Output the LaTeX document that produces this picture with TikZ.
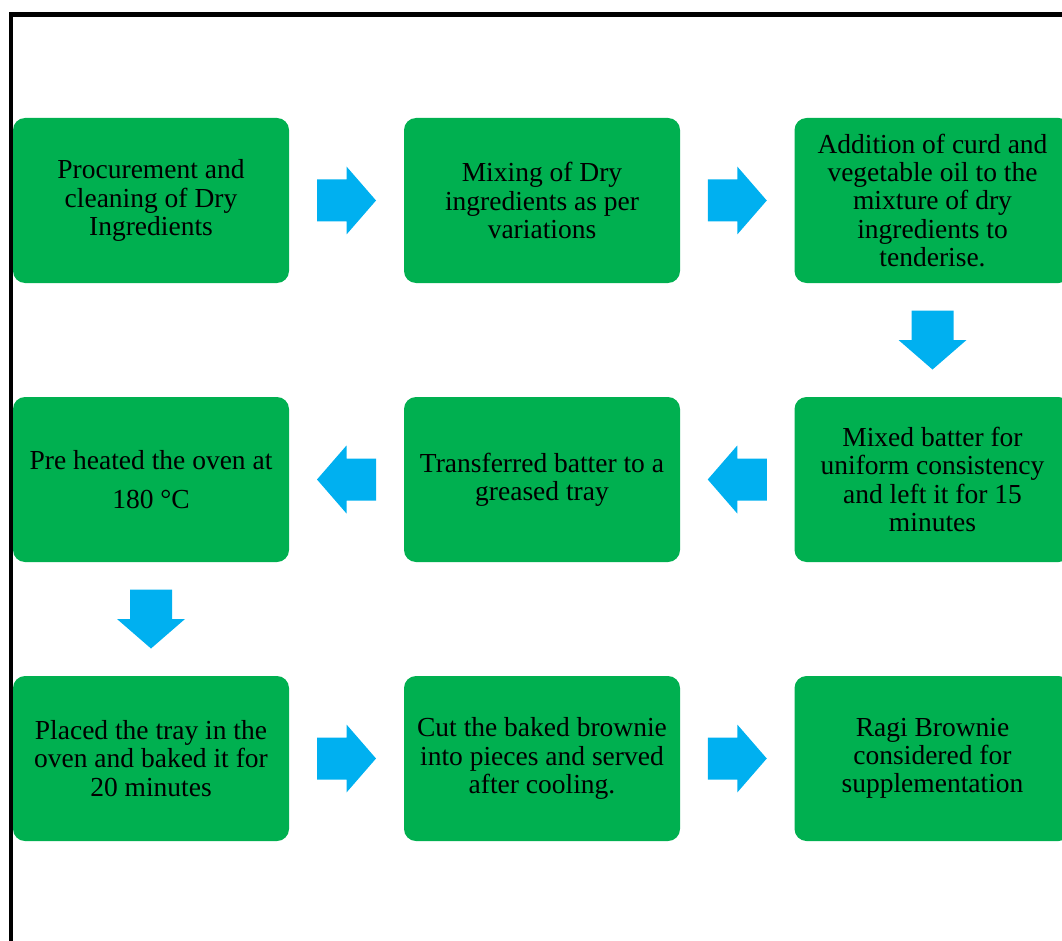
\documentclass[tikz,border=0pt]{standalone}
\usepackage{fontspec}
\setmainfont{Liberation Serif}
\usetikzlibrary{calc}
\definecolor{stepgreen}{HTML}{00B050}
\definecolor{flowblue}{HTML}{00B0F0}
% block arrow centred at #1, rotated by #2 degrees (0 = pointing right)
\newcommand{\blockarrow}[2]{%
  \fill[flowblue, shift={(#1)}, rotate=#2]
    (-29.5,-21) -- (0,-21) -- (0,-34) -- (29.5,0) -- (0,34) -- (0,21) -- (-29.5,21) -- cycle;}
\tikzset{
  stepbox/.style={fill=stepgreen, rounded corners=12pt, minimum width=276pt,
    minimum height=165pt, inner sep=0pt, align=center, text=black,
    font=\fontsize{27.5}{28.3}\selectfont},
}
\begin{document}
\begin{tikzpicture}[x=1pt,y=-1pt]
\useasboundingbox (0,0) rectangle (1062,941);
\clip (0,0) rectangle (1062,941);
% frame
\draw[line width=4.5pt, line join=miter] (10.8,960) -- (10.8,14.3) -- (1080,14.3);
% row 1
\node[stepbox] (s1) at (151,200.5) {Procurement and\\cleaning of Dry\\Ingredients};
\node[stepbox] (s2) at (542,200.5) {Mixing of Dry\\ingredients as per\\variations};
\node[stepbox] (s3) at (932.5,200.5) {Addition of curd and\\vegetable oil to the\\mixture of dry\\ingredients to\\tenderise.};
% row 2
\node[stepbox] (s4) at (932.5,479.5) {Mixed batter for\\uniform consistency\\and left it for 15\\minutes};
\node[stepbox] (s5) at (542,479.5) {Transferred batter to a\\greased tray};
\node[stepbox, font=\fontsize{27.5}{39.5}\selectfont] (s6) at (151,479.5) {Pre heated the oven at\\180 °C};
% row 3
\node[stepbox] (s7) at (151,758.5) {Placed the tray in the\\oven and baked it for\\20 minutes};
\node[stepbox] (s8) at (542,758.5) {Cut the baked brownie\\into pieces and served\\after cooling.};
\node[stepbox] (s9) at (932.5,758.5) {Ragi Brownie\\considered for\\supplementation};
% flow arrows
\blockarrow{$(s1.east)!0.5!(s2.west)$}{0}
\blockarrow{$(s2.east)!0.5!(s3.west)$}{0}
\blockarrow{$(s3.south)!0.5!(s4.north)$}{-90}
\blockarrow{$(s4.west)!0.5!(s5.east)$}{180}
\blockarrow{$(s5.west)!0.5!(s6.east)$}{180}
\blockarrow{$(s6.south)!0.5!(s7.north)$}{-90}
\blockarrow{$(s7.east)!0.5!(s8.west)$}{0}
\blockarrow{$(s8.east)!0.5!(s9.west)$}{0}
\end{tikzpicture}
\end{document}
